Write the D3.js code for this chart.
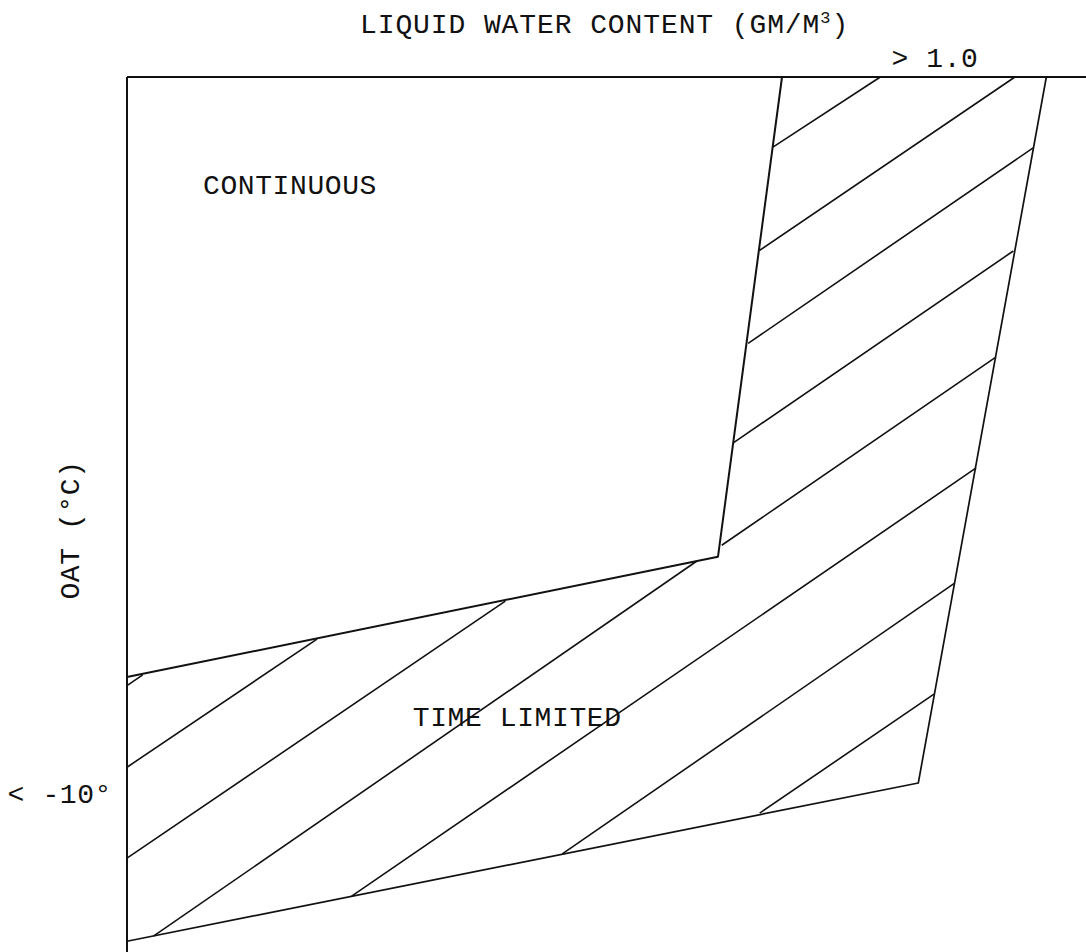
<!DOCTYPE html>
<html>
    <head>
        <meta charset="utf-8">
        <style>
            body{ margin: 0; background: #fff; }
            text{ font-family: "Liberation Mono", "DejaVu Sans Mono", monospace; fill: #111; letter-spacing: 0.6px; }
        </style>
<script src="https://d3js.org/d3.v7.min.js"></script>
</head>
<body>
<svg width="1086" height="952"></svg>
<script>

// values: x = liquid water content (g/m3), y = OAT (deg C)
var frameTop = [[0, 0], [1.161, 0]];
var frameLeft = [[0, 0], [0, -12.22]];

// line between the continuous and the time limited regions
var continuousEdge = [[0, -8.38], [0.7155, -6.70], [0.793, 0]];

// outer edge of the time limited region
var limitedEdge = [[1.113, 0], [0.958, -9.86], [0, -12.07]];

// hatching inside the time limited region, one pair of ends per stroke
var hatch = [
    [[0, -8.50], [0.019, -8.35]],
    [[0, -9.64], [0.230, -7.85]],
    [[0, -10.91], [0.458, -7.32]],
    [[0.032, -12.00], [0.690, -6.76]],
    [[0.272, -11.44], [1.028, -5.46]],
    [[0.527, -10.85], [1.002, -7.07]],
    [[0.766, -10.28], [0.977, -8.62]],
    [[0.720, -6.54], [1.051, -3.92]],
    [[0.734, -5.11], [1.073, -2.43]],
    [[0.752, -3.72], [1.097, -0.99]],
    [[0.766, -2.42], [1.075, 0]],
    [[0.782, -0.98], [0.912, 0]]
];

var xLabels = [{v: 1.0, t: "> 1.0"}];
var yLabels = [{v: -10, t: "< -10°"}];
var regionLabels = [
    {x: 0.092, y: -1.64, t: "CONTINUOUS"},
    {x: 0.346, y: -9.06, t: "TIME LIMITED"}
];

var svg = d3.select("svg");

var x = d3.scaleLinear().domain([0, 1]).range([127, 953]),
    y = d3.scaleLinear().domain([0, -10]).range([77, 793]);

var line = d3.line()
    .x(function(d) { return x(d[0]); })
    .y(function(d) { return y(d[1]); });

var g = svg.append("g")
    .attr("fill", "none")
    .attr("stroke", "#111")
    .attr("stroke-linejoin", "round");

g.append("path").attr("d", line(frameTop)).attr("stroke-width", 2.2);
g.append("path").attr("d", line(frameLeft)).attr("stroke-width", 2);
g.append("path").attr("d", line(continuousEdge)).attr("stroke-width", 2);
g.append("path").attr("d", line(limitedEdge)).attr("stroke-width", 1.7);

g.selectAll(".hatch")
  .data(hatch)
  .enter().append("path")
    .attr("class", "hatch")
    .attr("stroke-width", 1.6)
    .attr("d", line);

// titles
svg.append("text")
    .attr("x", 360)
    .attr("y", 33)
    .style("font-size", "28px")
    .style("letter-spacing", "0.9px")
    .html("LIQUID WATER CONTENT (GM/M<tspan dy='-10' style='font-size:17px'>3</tspan><tspan dy='10'>)</tspan>");

svg.append("text")
    .attr("transform", "translate(79,530) rotate(-90)")
    .attr("text-anchor", "middle")
    .style("font-size", "28px")
    .text("OAT (°C)");

svg.selectAll(".xlab")
  .data(xLabels)
  .enter().append("text")
    .attr("class", "xlab")
    .attr("x", function(d) { return x(d.v); })
    .attr("dx", -18)
    .attr("y", 67)
    .attr("text-anchor", "middle")
    .style("font-size", "28px")
    .text(function(d) { return d.t; });

svg.selectAll(".ylab")
  .data(yLabels)
  .enter().append("text")
    .attr("class", "ylab")
    .attr("x", 112)
    .attr("y", function(d) { return y(d.v); })
    .attr("dy", "0.35em")
    .attr("text-anchor", "end")
    .style("font-size", "28px")
    .text(function(d) { return d.t; });

svg.selectAll(".region")
  .data(regionLabels)
  .enter().append("text")
    .attr("class", "region")
    .attr("x", function(d) { return x(d.x); })
    .attr("y", function(d) { return y(d.y); })
    .style("font-size", "28px")
    .text(function(d) { return d.t; });

</script>
</body>
</html>
